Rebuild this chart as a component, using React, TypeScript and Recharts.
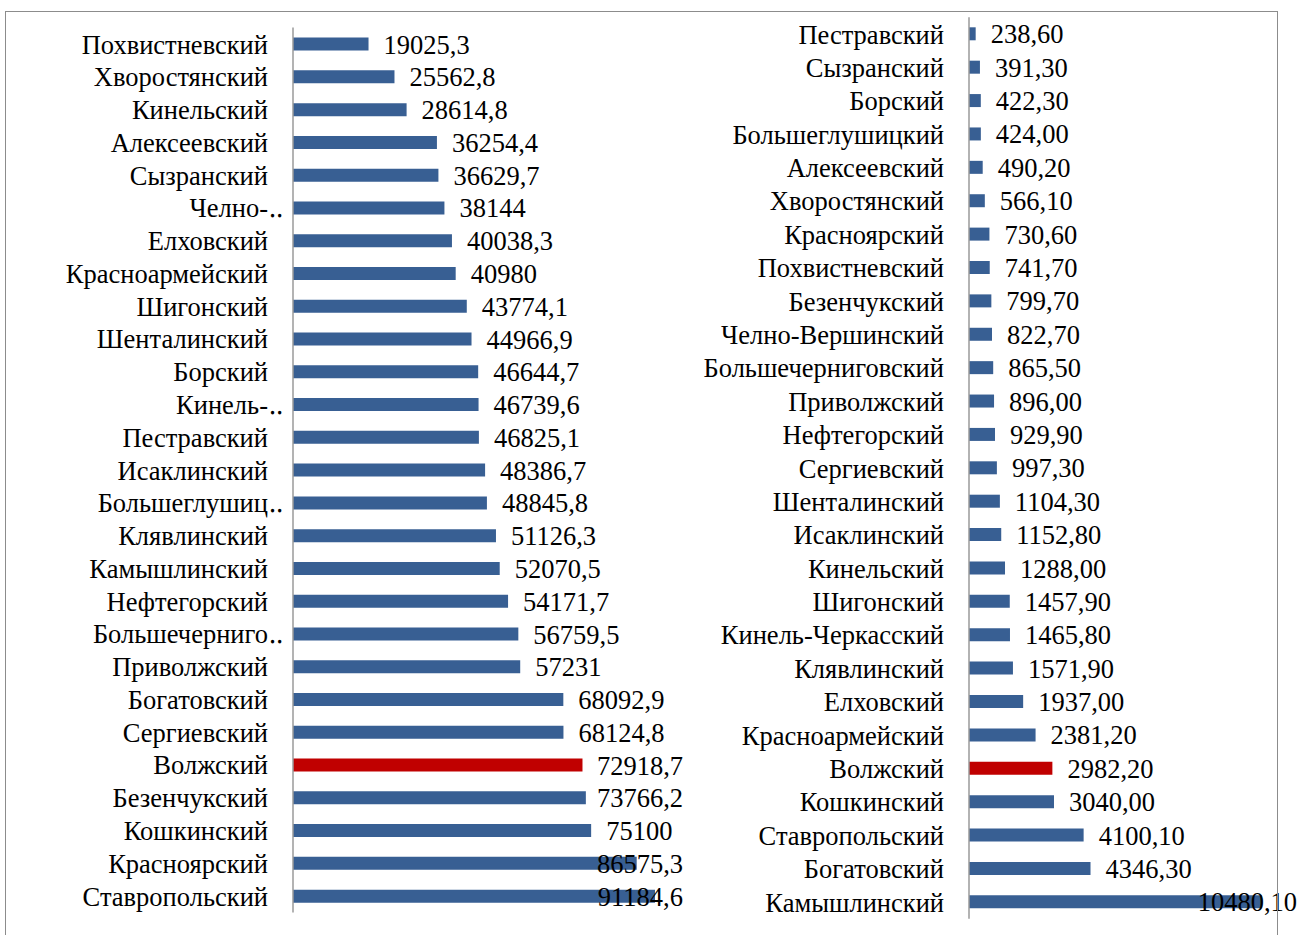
import { Bar, BarChart, Cell, LabelList, XAxis, YAxis } from "recharts";

const leftNames = [
  "Похвистневский", "Хворостянский", "Кинельский", "Алексеевский", "Сызранский",
  "Челно-‥", "Елховский", "Красноармейский", "Шигонский", "Шенталинский",
  "Борский", "Кинель-‥", "Пестравский", "Исаклинский", "Большеглушиц‥",
  "Клявлинский", "Камышлинский", "Нефтегорский", "Большечерниго‥", "Приволжский",
  "Богатовский", "Сергиевский", "Волжский", "Безенчукский", "Кошкинский",
  "Красноярский", "Ставропольский",
];
const leftValues = [
  19025.3, 25562.8, 28614.8, 36254.4, 36629.7,
  38144, 40038.3, 40980, 43774.1, 44966.9,
  46644.7, 46739.6, 46825.1, 48386.7, 48845.8,
  51126.3, 52070.5, 54171.7, 56759.5, 57231,
  68092.9, 68124.8, 72918.7, 73766.2, 75100,
  86575.3, 91184.6,
];

const rightNames = [
  "Пестравский", "Сызранский", "Борский", "Большеглушицкий", "Алексеевский",
  "Хворостянский", "Красноярский", "Похвистневский", "Безенчукский", "Челно-Вершинский",
  "Большечерниговский", "Приволжский", "Нефтегорский", "Сергиевский", "Шенталинский",
  "Исаклинский", "Кинельский", "Шигонский", "Кинель-Черкасский", "Клявлинский",
  "Елховский", "Красноармейский", "Волжский", "Кошкинский", "Ставропольский",
  "Богатовский", "Камышлинский",
];
const rightValues = [
  238.6, 391.3, 422.3, 424.0, 490.2,
  566.1, 730.6, 741.7, 799.7, 822.7,
  865.5, 896.0, 929.9, 997.3, 1104.3,
  1152.8, 1288.0, 1457.9, 1465.8, 1571.9,
  1937.0, 2381.2, 2982.2, 3040.0, 4100.1,
  4346.3, 10480.1,
];

const HIGHLIGHT = "Волжский";
const BLUE = "#385f93";
const RED = "#c00000";
const FONT = "'Liberation Serif', 'Times New Roman', serif";
const FS = 26.5;

let ctx: CanvasRenderingContext2D | null = null;
function textWidth(s: string) {
  if (!ctx) ctx = document.createElement("canvas").getContext("2d");
  if (!ctx) return s.length * FS * 0.5;
  ctx.font = `${FS}px ${FONT}`;
  return ctx.measureText(s).width;
}

const fmtLeft = (v: number) => String(v).replace(".", ",");
const fmtRight = (v: number) => v.toFixed(2).replace(".", ",");

function makeTick(labelRight: number) {
  return (props: any) => {
    const { y, payload } = props;
    const s: string = payload.value;
    const cut = s.endsWith("‥");
    const main = cut ? s.slice(0, -1) : s;
    return (
      <g>
        <text x={labelRight} y={y} dy="0.36em" textAnchor="end" fontFamily={FONT} fontSize={FS} fill="#000">
          {main}
        </text>
        {cut && (
          <text x={labelRight + 1} y={y} dy="0.36em" textAnchor="start" fontFamily={FONT} fontSize={FS} fill="#000">
            ‥
          </text>
        )}
      </g>
    );
  };
}

function makeValueLabel(fmt: (v: number) => string, clampRight: number) {
  return (props: any) => {
    const { x, y, width, height, value } = props;
    const s = fmt(Number(value));
    const w = textWidth(s);
    let tx = Number(x) + Number(width) + 15;
    if (tx + w > clampRight) tx = clampRight - w;
    return (
      <text x={tx} y={Number(y) + Number(height) / 2} dy="0.36em" fontFamily={FONT} fontSize={FS} fill="#000">
        {s}
      </text>
    );
  };
}

type PanelProps = {
  names: string[];
  values: number[];
  max: number;
  left: number;
  axisX: number;
  plotWidth: number;
  top: number;
  bottom: number;
  labelRight: number;
  clampRight: number;
  fmt: (v: number) => string;
};

function Panel(p: PanelProps) {
  const data = p.names.map((name, i) => ({ name, value: p.values[i] }));
  const width = p.axisX - p.left + p.plotWidth + 10;
  return (
    <div style={{ position: "absolute", left: p.left, top: 0 }}>
      <BarChart
        width={width}
        height={935}
        layout="vertical"
        data={data}
        barCategoryGap={0}
        margin={{ top: p.top, bottom: 935 - p.bottom, left: 0, right: 10 }}
        style={{ overflow: "visible" }}
      >
        <XAxis type="number" domain={[0, p.max]} hide />
        <YAxis
          type="category"
          dataKey="name"
          width={p.axisX - p.left}
          tickLine={false}
          axisLine={{ stroke: "#9a9a9a", strokeWidth: 1.5 }}
          interval={0}
          tick={makeTick(p.labelRight - p.left)}
        />
        <Bar dataKey="value" barSize={13} isAnimationActive={false}>
          {data.map((d) => (
            <Cell key={d.name} fill={d.name === HIGHLIGHT ? RED : BLUE} />
          ))}
          <LabelList dataKey="value" content={makeValueLabel(p.fmt, p.clampRight - p.left)} />
        </Bar>
      </BarChart>
    </div>
  );
}

export default function App() {
  return (
    <div style={{ position: "absolute", left: 0, top: 0, width: 1299, height: 935, background: "#fff", overflow: "hidden" }}>
      <Panel
        names={leftNames}
        values={leftValues}
        max={100000}
        left={0}
        axisX={293}
        plotWidth={397}
        top={27.6}
        bottom={912.4}
        labelRight={268}
        clampRight={683}
        fmt={fmtLeft}
      />
      <Panel
        names={rightNames}
        values={rightValues}
        max={12000}
        left={680}
        axisX={969}
        plotWidth={335.5}
        top={17.3}
        bottom={918.7}
        labelRight={944}
        clampRight={1297}
        fmt={fmtRight}
      />
      <div
        style={{
          position: "absolute",
          left: 5,
          top: 11,
          width: 1271,
          height: 940,
          border: "1px solid #8c8c8c",
          pointerEvents: "none",
        }}
      />
    </div>
  );
}
